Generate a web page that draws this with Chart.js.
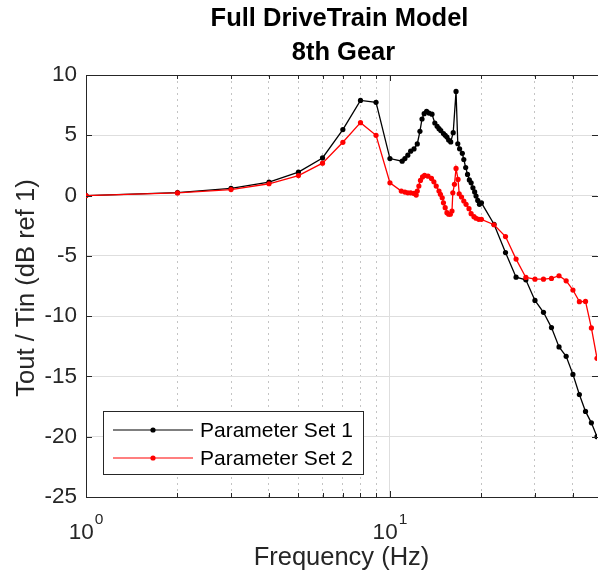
<!DOCTYPE html>
<html><head><meta charset="utf-8">
<script src="https://cdn.jsdelivr.net/npm/chart.js@4/dist/chart.umd.min.js"></script>
<style>html,body{margin:0;padding:0;background:#fff}#wrap{width:601px;height:575px}</style>
</head><body><div id="wrap"><canvas id="c" width="601" height="575"></canvas></div>
<script>
const titleLines = ['Full DriveTrain Model', '8th Gear'];
const xTitle = 'Frequency (Hz)';
const yTitle = 'Tout / Tin (dB ref 1)';
const seriesNames = ['Parameter Set 1', 'Parameter Set 2'];
const seriesColors = ['#000000', '#ff0000'];
const yTickValues = [-25, -20, -15, -10, -5, 0, 5, 10];
const xMajorTicks = [1, 10];
const xMinorTicks = [2, 3, 4, 5, 6, 7, 8, 9, 20, 30, 40];
const xTickLabels = [{ base: '10', exp: '0', value: 1 }, { base: '10', exp: '1', value: 10 }];

const freq1 = [1,2,3,4,5,6,7,8,9,10,
  10.97,11.2,11.45,11.7,12.0,12.3,12.55,12.75,12.96,13.2,13.44,13.75,14.05,14.3,14.5,14.7,15.0,15.2,15.4,15.6,
  15.85,16.15,16.5,16.72,16.95,17.3,17.5,17.75,18.0,18.25,18.5,18.75,19.0,19.2,19.45,19.7,20.0,
  22,24,26,28,30,32,34,36,38,40,42,44,46,48];
const val1 = [0,0.25,0.6,1.12,1.95,3.12,5.47,7.89,7.73,3.07,
  2.85,3.07,3.35,3.68,3.87,4.28,5.33,6.35,6.79,6.98,6.84,6.75,6.02,5.74,5.55,5.39,5.14,5.0,4.85,4.6,
  4.45,5.22,8.64,4.3,3.88,3.5,2.99,2.33,1.75,1.3,1.06,0.64,0.3,-0.04,-0.4,-0.73,-0.6,
  -2.38,-4.73,-6.77,-6.99,-8.7,-9.68,-10.95,-12.55,-13.33,-14.83,-16.5,-17.9,-18.85,-20.0];

const freq2 = [1,2,3,4,5,6,7,8,9,10,
  10.9,11.2,11.45,11.7,12.0,12.2,12.3,12.45,12.6,12.8,13.0,13.35,13.7,13.95,14.2,14.5,14.66,14.86,15.0,15.2,
  15.4,15.6,15.8,16.0,16.1,16.3,16.5,16.75,16.9,17.2,17.5,17.8,18.2,18.5,18.9,19.2,19.6,20.0,
  22,24,26,28,30,32,34,36,38,40,42,44,46,48];
const val2 = [0,0.22,0.5,0.98,1.66,2.69,4.42,6.05,5.0,1.06,
  0.37,0.29,0.23,0.23,0.18,0.04,0.37,0.79,1.26,1.55,1.67,1.61,1.42,1.14,0.79,0.37,0.1,-0.18,-0.6,-1.0,
  -1.42,-1.55,-1.55,-1.28,0.23,0.93,2.25,1.34,0.15,-0.12,-0.45,-0.73,-1.09,-1.5,-1.75,-1.88,-1.97,-1.97,
  -2.42,-3.4,-5.27,-6.79,-6.93,-6.93,-6.87,-6.65,-7.07,-7.83,-8.8,-8.78,-10.98,-13.5];

const ink = '#262626';
const FONT = '"Liberation Sans", Arial, Helvetica, sans-serif';
const toPts = (fs, vs) => fs.map((f, i) => ({ x: f, y: vs[i] }));

const deco = {
  id: 'deco',
  afterDraw(chart) {
    const { ctx, chartArea: a, scales: { x, y } } = chart;
    ctx.save();
    ctx.strokeStyle = ink; ctx.lineWidth = 1;
    ctx.beginPath(); ctx.moveTo(a.left, a.top + 0.5); ctx.lineTo(a.right + 1, a.top + 0.5); ctx.stroke();
    [...xMajorTicks, ...xMinorTicks].forEach(v => {
      const px = Math.round(x.getPixelForValue(v)) + 0.5;
      const len = xMajorTicks.includes(v) ? 6 : 4;
      ctx.beginPath();
      ctx.moveTo(px, a.bottom); ctx.lineTo(px, a.bottom - len);
      ctx.moveTo(px, a.top); ctx.lineTo(px, a.top + len);
      ctx.stroke();
    });
    yTickValues.forEach(v => {
      const py = Math.round(y.getPixelForValue(v)) + 0.5;
      ctx.beginPath();
      ctx.moveTo(a.left, py); ctx.lineTo(a.left + 6, py);
      ctx.moveTo(a.right + 1, py); ctx.lineTo(a.right - 5, py);
      ctx.stroke();
    });
    ctx.fillStyle = ink;
    ctx.textBaseline = 'alphabetic';
    xTickLabels.forEach(t => {
      const cx = x.getPixelForValue(t.value);
      ctx.font = '22.5px ' + FONT;
      const wb = ctx.measureText(t.base).width;
      ctx.font = '15.5px ' + FONT;
      const we = ctx.measureText(t.exp).width;
      const start = cx - (wb + we + 1) / 2;
      ctx.font = '22.5px ' + FONT;
      ctx.textAlign = 'left';
      ctx.fillText(t.base, start, 539);
      ctx.font = '15.5px ' + FONT;
      ctx.fillText(t.exp, start + wb + 1, 524);
    });
    ctx.textAlign = 'center'; ctx.textBaseline = 'middle';
    ctx.font = '25.5px ' + FONT;
    ctx.fillText(xTitle, (a.left + a.right) / 2, 558);
    ctx.save();
    ctx.translate(27, (a.top + a.bottom) / 2 + 2);
    ctx.rotate(-Math.PI / 2);
    ctx.fillText(yTitle, 0, 0);
    ctx.restore();
    ctx.fillStyle = '#000';
    ctx.font = 'bold 25.5px ' + FONT;
    ctx.fillText(titleLines[0], (a.left + a.right) / 2 - 2, 19);
    ctx.fillText(titleLines[1], (a.left + a.right) / 2 + 2, 53);
    // legend
    ctx.font = '21px ' + FONT;
    const tw = Math.max(...seriesNames.map(n => ctx.measureText(n).width));
    const bx = 103.5, by = 411.5, bw = Math.round(200 + tw + 10 - 103), bh = 63;
    ctx.fillStyle = '#fff';
    ctx.fillRect(bx, by, bw, bh);
    ctx.strokeStyle = ink; ctx.lineWidth = 1;
    ctx.strokeRect(bx, by, bw, bh);
    const rows = [430, 458];
    seriesNames.forEach((name, i) => {
      const ry = rows[i];
      ctx.strokeStyle = seriesColors[i];
      ctx.lineWidth = 1.2;
      ctx.beginPath(); ctx.moveTo(113, ry); ctx.lineTo(193, ry); ctx.stroke();
      ctx.fillStyle = seriesColors[i];
      ctx.beginPath(); ctx.arc(153, ry, 2.6, 0, Math.PI * 2); ctx.fill();
      ctx.fillStyle = '#000';
      ctx.font = '21px ' + FONT;
      ctx.textAlign = 'left'; ctx.textBaseline = 'middle';
      ctx.fillText(name, 200, ry + 1);
    });
    ctx.restore();
  }
};

new Chart(document.getElementById('c'), {
  type: 'line',
  data: {
    datasets: [
      { label: seriesNames[0], data: toPts(freq1, val1), borderColor: seriesColors[0], backgroundColor: seriesColors[0],
        borderWidth: 1.3, pointRadius: 2.6, pointBorderWidth: 0, pointBackgroundColor: seriesColors[0], tension: 0, order: 1 },
      { label: seriesNames[1], data: toPts(freq2, val2), borderColor: seriesColors[1], backgroundColor: seriesColors[1],
        borderWidth: 1.3, pointRadius: 2.6, pointBorderWidth: 0, pointBackgroundColor: seriesColors[1], tension: 0, order: 0 }
    ]
  },
  options: {
    responsive: false,
    devicePixelRatio: 1,
    animation: false,
    layout: { padding: { top: 75, right: 1, bottom: 0, left: 0 } },
    plugins: { legend: { display: false }, title: { display: false }, tooltip: { enabled: false } },
    scales: {
      x: {
        type: 'logarithmic', min: 1, max: 48,
        afterBuildTicks: s => { s.ticks = [...xMajorTicks, ...xMinorTicks].sort((p, q) => p - q).map(v => ({ value: v, major: xMajorTicks.includes(v) })); },
        afterFit: s => { s.height = 78; },
        ticks: { display: false },
        grid: {
          drawTicks: false,
          color: c => (c.tick && c.tick.value === 10) ? '#dedede' : (c.tick && c.tick.value === 1 ? 'rgba(0,0,0,0)' : '#c4c4c4'),
          lineWidth: 1
        },
        border: { display: true, color: ink, width: 1, dash: c => (c.tick && xMinorTicks.includes(c.tick.value)) ? [2, 4] : [] }
      },
      y: {
        type: 'linear', min: -25, max: 10,
        afterBuildTicks: s => { s.ticks = yTickValues.map(v => ({ value: v })); },
        afterFit: s => { s.width = 86; },
        ticks: { color: ink, font: { family: FONT, size: 22.5 }, padding: 9 },
        grid: { drawTicks: false, color: c => (c.tick && (c.tick.value === -25)) ? 'rgba(0,0,0,0)' : '#dedede', lineWidth: 1 },
        border: { display: true, color: ink, width: 1 }
      }
    }
  },
  plugins: [deco]
});
</script>
</body></html>
